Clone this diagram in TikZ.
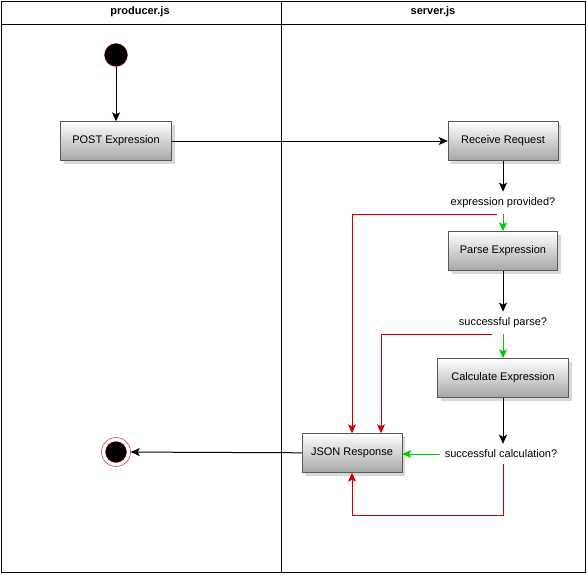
\documentclass[tikz,border=0pt]{standalone}
\usepackage{fontspec}
\setmainfont{Liberation Sans}
\usetikzlibrary{arrows.meta,shadows}
\definecolor{rouge}{RGB}{204,0,0}
\definecolor{vert}{RGB}{0,204,0}
\begin{document}
\begin{tikzpicture}[x=1pt,y=-1pt,font=\fontsize{11}{13}\selectfont]
  \tikzstyle{activite}=[rectangle, draw=black!65, top color=white,
  bottom color=black!35, text=black, minimum height=39pt,
  drop shadow={shadow xshift=3pt, shadow yshift=-3pt, fill=black!30}]
  \tikzstyle{question}=[inner xsep=2pt, inner ysep=6pt]
  \tikzstyle{fleche}=[-{Stealth[length=9pt,width=8pt,inset=2pt]}, line width=1pt]
  \useasboundingbox (0,0) rectangle (587,574);
  % couloirs
  \draw (1,1) rectangle (585,572);
  \draw (1,24) -- (585,24);
  \draw (281,1) -- (281,572);
  \node[font=\fontsize{11}{13}\selectfont\bfseries] (producteur) at (140,12) {producer.js};
  \node[font=\fontsize{11}{13}\selectfont\bfseries] (serveur) at (433,12) {server.js};
  % debut et fin
  \node[circle, draw=rouge, fill=black, minimum size=23pt, inner sep=0pt] (debut) at (116,55) {};
  \node[circle, draw=rouge, fill=white, minimum size=29pt, inner sep=0pt] (fin) at (116,452) {};
  \node[circle, draw=rouge, fill=black, minimum size=21pt, inner sep=0pt] at (fin) {};
  % activites
  \foreach \n/\x/\y/\w/\t in {post/116/141/111/POST Expression,
    recoit/503/141/110/Receive Request, analyse/503/251/109/Parse Expression,
    calcul/503/378/131/Calculate Expression, json/352/453/100/JSON Response} {
    \node[activite, minimum width=\w pt] (\n) at (\x,\y) {\t};
  }
  % decisions
  \node[question] (fourni) at (503,203) {expression provided?};
  \node[question] (valide) at (503,323) {successful parse?};
  \node[question, inner xsep=5pt] (reussi) at (501,454) {successful calculation?};
  \coordinate (retour) at (503,515);
  % fleches
  \foreach \a/\b in {debut/post, recoit/fourni, analyse/valide, json/fin} {
    \draw[fleche] (\a) -- (\b);
  }
  \draw[fleche] (calcul) -- (calcul |- reussi.north);
  \draw[fleche] (post) -- (recoit);
  \draw[fleche, vert] (fourni) -- (analyse);
  \draw[fleche, vert] (valide) -- (calcul);
  \draw[fleche, vert] (reussi) -- (reussi -| json.east);
  \draw[fleche, rouge] ([xshift=-6pt]fourni.south) -| (json.north);
  \draw[fleche, rouge] ([xshift=-11pt]valide.south) -| ([xshift=29pt]json.north);
  \draw[fleche, rouge] (reussi.south -| retour) -- (retour) -| (json.south);
\end{tikzpicture}
\end{document}
